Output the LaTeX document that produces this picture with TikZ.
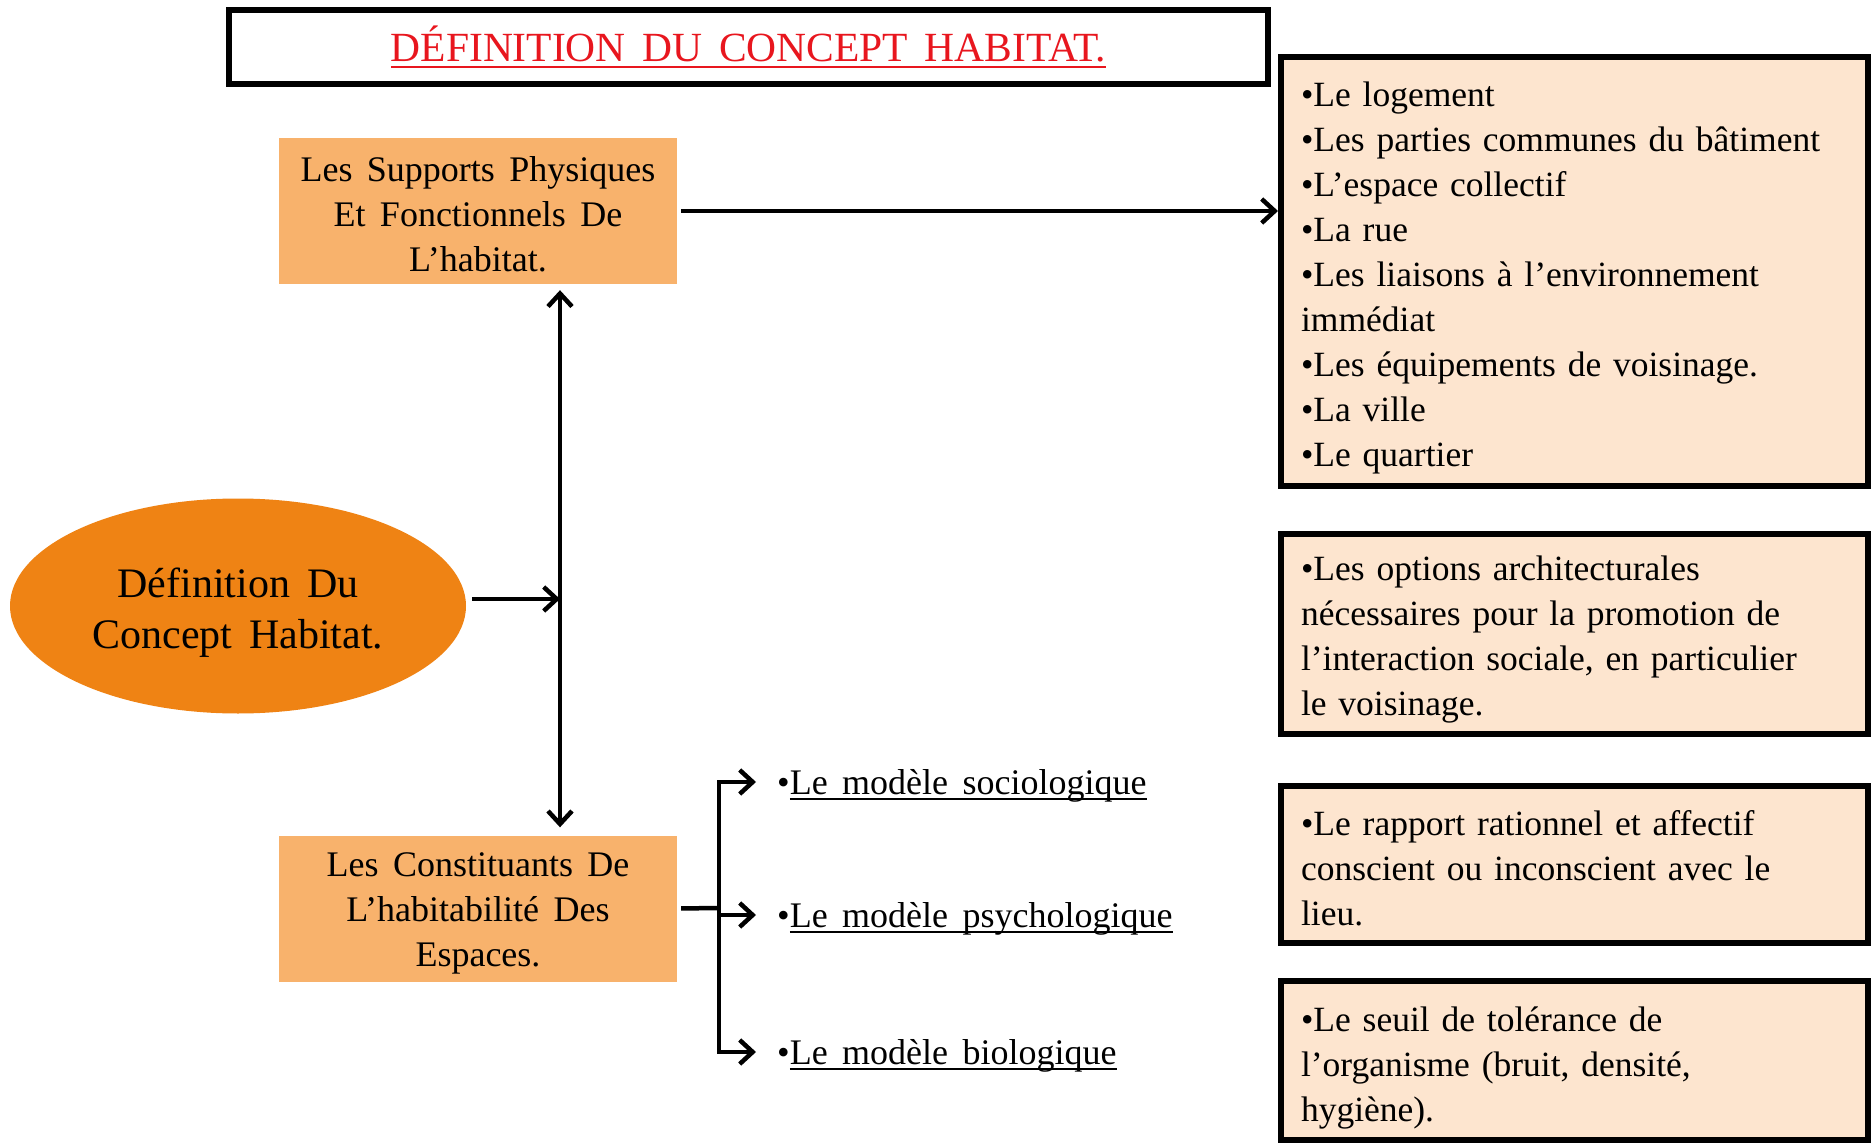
\documentclass[tikz,border=0pt]{standalone}
\usepackage{fontspec}
\setmainfont{Liberation Serif}[WordSpace=1.6]
\usetikzlibrary{arrows.meta,shapes.geometric,calc}
\definecolor{boxorange}{RGB}{248,178,108}
\definecolor{ellorange}{RGB}{239,131,20}
\definecolor{peach}{RGB}{253,229,207}
\definecolor{titlered}{RGB}{232,22,30}
\newcommand\myuline[1]{\setbox0\hbox{#1}\rlap{\rule[-0.16em]{\wd0}{0.055em}}\box0}
\begin{document}
\begin{tikzpicture}[x=1pt,y=-1pt,
  >={Straight Barb[length=13pt,width=24pt]},
  arr/.style={line width=4.5pt},
  obox/.style={rectangle, fill=boxorange, minimum width=398pt, minimum height=146pt, inner sep=0pt},
  otext/.style={inner sep=0pt, align=center, font=\fontsize{36}{45}\selectfont},
  pbox/.style={rectangle, draw, line width=6pt, fill=peach, minimum width=587pt, inner sep=0pt},
  ptext/.style={text width=547pt, inner sep=0pt, align=left, font=\fontsize{35.5}{45}\selectfont},
  model/.style={anchor=west, inner sep=0pt, text height=36pt, text depth=12pt, font=\fontsize{36}{45}\selectfont}]
\useasboundingbox (0,0) rectangle (1872,1145);
\node[draw, line width=6pt, minimum width=1039pt, minimum height=74pt, inner sep=0pt] (title) at (748.5,47)
  {\fontsize{41.5}{48}\selectfont\color{titlered}\myuline{DÉFINITION DU CONCEPT HABITAT.}};
\node[obox] (sup) at (478,211) {};
\node[otext] (supt) at ([yshift=-3pt]sup.center) {Les Supports Physiques\\Et Fonctionnels De\\L’habitat.};
\node[obox] (con) at (478,908.5) {};
\node[otext] (cont) at ([yshift=-5pt]con.center) {Les Constituants De\\L’habitabilité Des\\Espaces.};
\node[ellipse, fill=ellorange, minimum width=456pt, minimum height=215pt, inner sep=0pt] (ell) at (238,606) {};
\node[inner sep=0pt, align=center, font=\fontsize{42}{51}\selectfont] (ellt) at ([yshift=-7pt]ell.center) {Définition Du\\Concept Habitat.};
\node[pbox, minimum height=429pt] (b1) at (1574.5,271.5) {};
\node[ptext] (b1t) at ([yshift=-6pt]b1.center) {•Le logement\\•Les parties communes du bâtiment\\•L’espace collectif\\•La rue\\•Les liaisons à l’environnement\\immédiat\\•Les équipements de voisinage.\\•La ville\\•Le quartier};
\node[pbox, minimum height=200pt] (b2) at (1574.5,634) {};
\node[ptext] (b2t) at ([yshift=-6pt]b2.center) {•Les options architecturales\\nécessaires pour la promotion de\\l’interaction sociale, en particulier\\le voisinage.};
\node[pbox, minimum height=157pt] (b3) at (1574.5,864.5) {};
\node[ptext] (b3t) at ([yshift=-4pt]b3.center) {•Le rapport rationnel et affectif\\conscient ou inconscient avec le\\lieu.};
\node[pbox, minimum height=159pt] (b4) at (1574.5,1060.5) {};
\node[ptext] (b4t) at ([yshift=-7pt]b4.center) {•Le seuil de tolérance de\\l’organisme (bruit, densité,\\hygiène).};
\node[model] (m1) at (777,782) {•\myuline{Le modèle sociologique}};
\node[model] (m2) at (777,915) {•\myuline{Le modèle psychologique}};
\node[model] (m3) at (777,1052) {•\myuline{Le modèle biologique}};
\coordinate (j) at (560,599);
\coordinate (k) at (719,908);
\draw[arr,->,shorten <=6pt] (j -| ell.east) -- (j);
\draw[arr,<->,shorten <=6pt,shorten >=8pt] (j |- sup.south) -- (j |- con.north);
\draw[arr,->,shorten <=4pt] (sup.east) -- (sup.east -| b1.west);
\draw[arr,shorten <=4pt] (con.east) -- (k);
\draw[arr,->,shorten >=21pt] (k) |- (m1.west);
\draw[arr,->,shorten >=21pt] (k) |- (m3.west);
\draw[arr,->,shorten >=21pt] (k |- m2.west) -- (m2.west);
\end{tikzpicture}
\end{document}
